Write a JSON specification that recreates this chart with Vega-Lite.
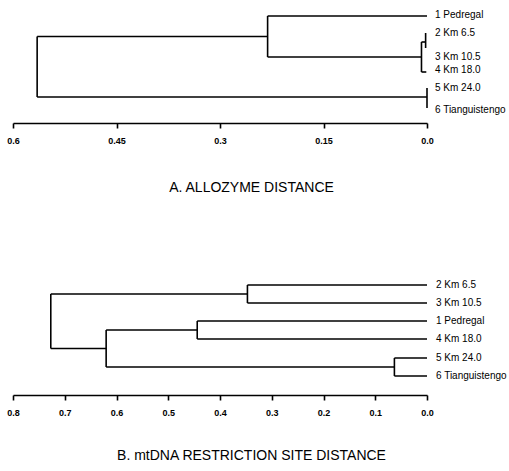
{
  "$schema": "https://vega.github.io/schema/vega-lite/v6.json",
  "padding": {"left": 6, "top": 0, "right": 0, "bottom": 0},
  "background": "white",
  "bounds": "flush",
  "spacing": 147,
  "config": {
    "view": {"stroke": null},
    "axis": {"grid": false, "domainColor": "black", "domainWidth": 1.6, "tickColor": "black", "tickWidth": 1.6, "tickSize": 5, "labelColor": "black", "labelFont": "Liberation Sans", "labelFontSize": 9, "labelFontWeight": "bold", "labelPadding": 8, "labelFlush": false, "labelOverlap": false, "titleFont": "Liberation Sans", "titleFontSize": 14, "titleFontWeight": "normal", "titleColor": "black"}
  },
  "vconcat": [
    {
      "width": 414,
      "height": 123,
      "layer": [
        {
          "data": {"values": [
            {"d1": 0.231, "d2": 0, "y1": 16, "y2": 16},
            {"d1": 0.231, "d2": 0.231, "y1": 16, "y2": 57},
            {"d1": 0.231, "d2": 0.008, "y1": 57, "y2": 57},
            {"d1": 0.008, "d2": 0.008, "y1": 42, "y2": 72},
            {"d1": 0.008, "d2": 0.001, "y1": 72, "y2": 72},
            {"d1": 0.008, "d2": 0.002, "y1": 42, "y2": 42},
            {"d1": 0.002, "d2": 0.002, "y1": 33, "y2": 48},
            {"d1": 0.565, "d2": 0.231, "y1": 36.5, "y2": 36.5},
            {"d1": 0.565, "d2": 0.565, "y1": 36.5, "y2": 97},
            {"d1": 0.565, "d2": 0, "y1": 97, "y2": 97},
            {"d1": 0, "d2": 0, "y1": 88, "y2": 108}
          ]},
          "mark": {"type": "rule", "color": "black", "strokeWidth": 1.6},
          "encoding": {
            "x": {"field": "d1", "type": "quantitative", "scale": {"domain": [0, 0.6], "reverse": true, "nice": false, "zero": false},
              "axis": {"values": [0.6, 0.45, 0.3, 0.15, 0], "format": "~g", "labelExpr": "datum.value == 0 ? '0.0' : datum.label", "title": "A.  ALLOZYME DISTANCE", "titleX": 238, "titleY": 64, "titleAlign": "center", "titleBaseline": "middle"}},
            "x2": {"field": "d2"},
            "y": {"field": "y1", "type": "quantitative", "scale": {"domain": [0, 123], "reverse": true, "nice": false, "zero": false}, "axis": null},
            "y2": {"field": "y2"}
          }
        },
        {
          "data": {"values": [
            {"leaf": "1 Pedregal", "d": 0, "yl": 15},
            {"leaf": "2 Km 6.5", "d": 0, "yl": 33},
            {"leaf": "3 Km 10.5", "d": 0, "yl": 57},
            {"leaf": "4 Km 18.0", "d": 0, "yl": 70},
            {"leaf": "5 Km 24.0", "d": 0, "yl": 88},
            {"leaf": "6 Tianguistengo", "d": 0, "yl": 110}
          ]},
          "mark": {"type": "text", "align": "left", "baseline": "middle", "dx": 8, "font": "Liberation Sans", "fontSize": 10, "color": "black"},
          "encoding": {
            "x": {"field": "d", "type": "quantitative"},
            "y": {"field": "yl", "type": "quantitative"},
            "text": {"field": "leaf"}
          }
        }
      ]
    },
    {
      "width": 414,
      "height": 125,
      "layer": [
        {
          "data": {"values": [
            {"d1": 0.347, "d2": 0, "y1": 285, "y2": 285},
            {"d1": 0.347, "d2": 0, "y1": 303, "y2": 303},
            {"d1": 0.444, "d2": 0, "y1": 321, "y2": 321},
            {"d1": 0.444, "d2": 0, "y1": 339, "y2": 339},
            {"d1": 0.063, "d2": 0, "y1": 358, "y2": 358},
            {"d1": 0.063, "d2": 0, "y1": 376, "y2": 376},
            {"d1": 0.347, "d2": 0.347, "y1": 285, "y2": 303},
            {"d1": 0.444, "d2": 0.444, "y1": 321, "y2": 339},
            {"d1": 0.063, "d2": 0.063, "y1": 358, "y2": 376},
            {"d1": 0.62, "d2": 0.62, "y1": 330, "y2": 367},
            {"d1": 0.727, "d2": 0.727, "y1": 294, "y2": 348.5},
            {"d1": 0.727, "d2": 0.347, "y1": 294, "y2": 294},
            {"d1": 0.727, "d2": 0.62, "y1": 348.5, "y2": 348.5},
            {"d1": 0.62, "d2": 0.444, "y1": 330, "y2": 330},
            {"d1": 0.62, "d2": 0.063, "y1": 367, "y2": 367}
          ]},
          "mark": {"type": "rule", "color": "black", "strokeWidth": 1.6},
          "encoding": {
            "x": {"field": "d1", "type": "quantitative", "scale": {"domain": [0, 0.8], "reverse": true, "nice": false, "zero": false},
              "axis": {"values": [0.8, 0.7, 0.6, 0.5, 0.4, 0.3, 0.2, 0.1, 0], "format": ".1f", "title": "B.  mtDNA RESTRICTION SITE DISTANCE", "titleX": 238, "titleY": 60, "titleAlign": "center", "titleBaseline": "middle"}},
            "x2": {"field": "d2"},
            "y": {"field": "y1", "type": "quantitative", "scale": {"domain": [270, 395], "reverse": true, "nice": false, "zero": false}, "axis": null},
            "y2": {"field": "y2"}
          }
        },
        {
          "data": {"values": [
            {"leaf": "2 Km 6.5", "d": 0, "yl": 285},
            {"leaf": "3 Km 10.5", "d": 0, "yl": 303},
            {"leaf": "1 Pedregal", "d": 0, "yl": 321},
            {"leaf": "4 Km 18.0", "d": 0, "yl": 339},
            {"leaf": "5 Km 24.0", "d": 0, "yl": 358},
            {"leaf": "6 Tianguistengo", "d": 0, "yl": 376}
          ]},
          "mark": {"type": "text", "align": "left", "baseline": "middle", "dx": 9, "font": "Liberation Sans", "fontSize": 10, "color": "black"},
          "encoding": {
            "x": {"field": "d", "type": "quantitative"},
            "y": {"field": "yl", "type": "quantitative"},
            "text": {"field": "leaf"}
          }
        }
      ]
    }
  ]
}
